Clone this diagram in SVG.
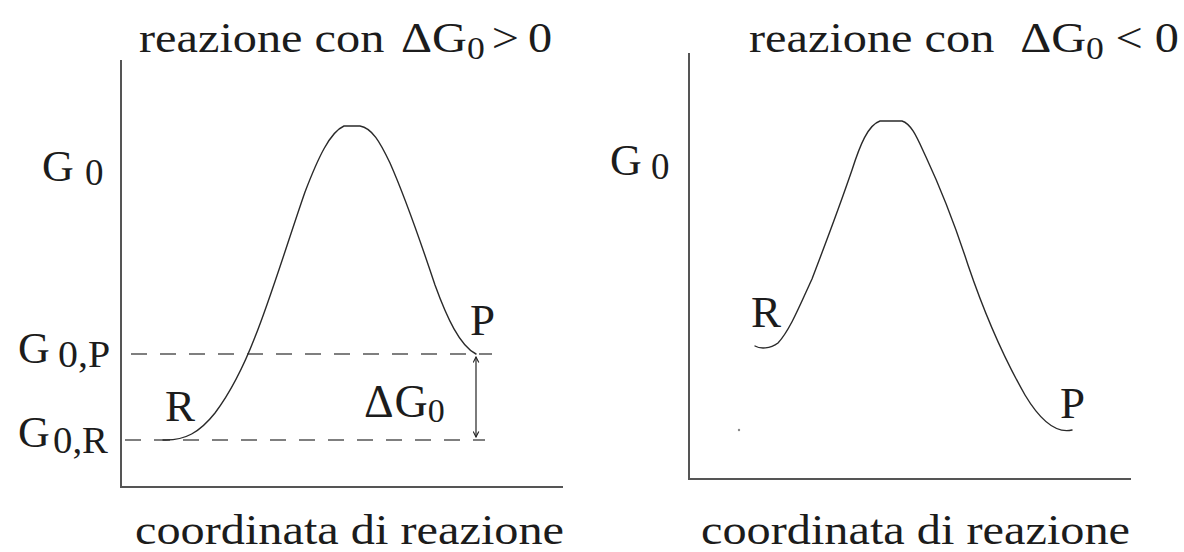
<svg xmlns="http://www.w3.org/2000/svg" width="1184" height="552" viewBox="0 0 1184 552">
<style>
.t{font-family:"Liberation Serif","Times New Roman",serif;fill:#1c1c1c;}
.ax{fill:none;stroke:#555;stroke-width:2;}
.cv{fill:none;stroke:#2a2a2a;stroke-width:1.4;stroke-linejoin:round;stroke-linecap:round;}
.dash{fill:none;stroke:#555;stroke-width:1.6;stroke-dasharray:16 13;}
.arr{fill:none;stroke:#444;stroke-width:1.4;}
</style>
<defs>
<marker id="ah" viewBox="0 0 10 10" refX="9" refY="5" markerWidth="7" markerHeight="7" orient="auto-start-reverse" markerUnits="userSpaceOnUse">
<path d="M1,1 L9,5 L1,9" fill="none" stroke="#222" stroke-width="1.6"/>
</marker>
</defs>
<rect width="1184" height="552" fill="#fff"/>

<g id="left-panel">
<g id="left-title"><text class="t" font-size="42" transform="translate(139,52) scale(1.15,1)">reazione con <tspan dx="4">ΔG</tspan><tspan font-size="31" dy="7">0</tspan><tspan dy="-7" dx="6">&gt;</tspan><tspan dx="8">0</tspan></text></g>
<g id="left-axes"><path class="ax" d="M121,60 V487 H563"/></g>
<g id="left-g0"><text class="t" font-size="44" x="42" y="181">G</text><text class="t" font-size="37" x="85" y="185">0</text></g>
<g id="left-g0p"><text class="t" font-size="44" x="18" y="363">G</text><text class="t" font-size="38" transform="translate(58,367) scale(1.05,1)">0,P</text></g>
<g id="left-g0r"><text class="t" font-size="44" x="18" y="447">G</text><text class="t" font-size="38" transform="translate(53,453) scale(1.02,1)">0,R</text></g>
<g id="left-dashes"><path class="dash" d="M131,354 H492"/><path class="dash" d="M125,440 H485"/></g>
<g id="left-curve"><path class="cv" d="M163,440 C185,441 200,432 215,413 C230,393 243,368 255,337 C270,300 290,235 305,192 C318,158 330,132 344,126 L360,126 C372,128 380,142 390,163 C405,197 420,240 435,285 C447,318 460,346 476,354"/></g>
<g id="left-r"><text class="t" font-size="45" x="165" y="421">R</text></g>
<g id="left-p"><text class="t" font-size="45" x="470" y="335">P</text></g>
<g id="left-dg"><text class="t" font-size="46" x="364" y="417">Δ<tspan dx="1">G</tspan><tspan font-size="34" dy="5">0</tspan></text></g>
<g id="left-xlabel"><text class="t" font-size="42" transform="translate(135,544) scale(1.15,1)">coordinata di reazione</text></g>
</g>

<g id="connectors">
<path class="arr" d="M476,357 V437" marker-start="url(#ah)" marker-end="url(#ah)"/>
</g>

<g id="right-panel">
<g id="right-title"><text class="t" font-size="42" transform="translate(749,52) scale(1.15,1)">reazione con <tspan dx="12">ΔG</tspan><tspan font-size="31" dy="7">0</tspan><tspan dy="-7" dx="10">&lt; 0</tspan></text></g>
<g id="right-axes"><path class="ax" d="M689,53 V479 H1131"/></g>
<g id="right-g0"><text class="t" font-size="44" x="610" y="175">G</text><text class="t" font-size="37" x="651" y="179">0</text></g>
<g id="right-curve"><path class="cv" d="M755,346 C760,349 770,349 778,343 C790,330 800,305 812,279 C825,245 840,205 852,170 C860,145 868,125 880,121 L902,121 C912,124 918,140 926,157 C940,187 955,225 968,265 C985,315 1005,360 1025,395 C1040,420 1055,434 1072,430"/></g>
<g id="right-r"><text class="t" font-size="45" x="751" y="327">R</text></g>
<g id="right-p"><text class="t" font-size="45" x="1060" y="418">P</text></g>
<circle cx="739" cy="430" r="1.2" fill="#888"/>
<g id="right-xlabel"><text class="t" font-size="42" transform="translate(701,544) scale(1.15,1)">coordinata di reazione</text></g>
</g>
</svg>
